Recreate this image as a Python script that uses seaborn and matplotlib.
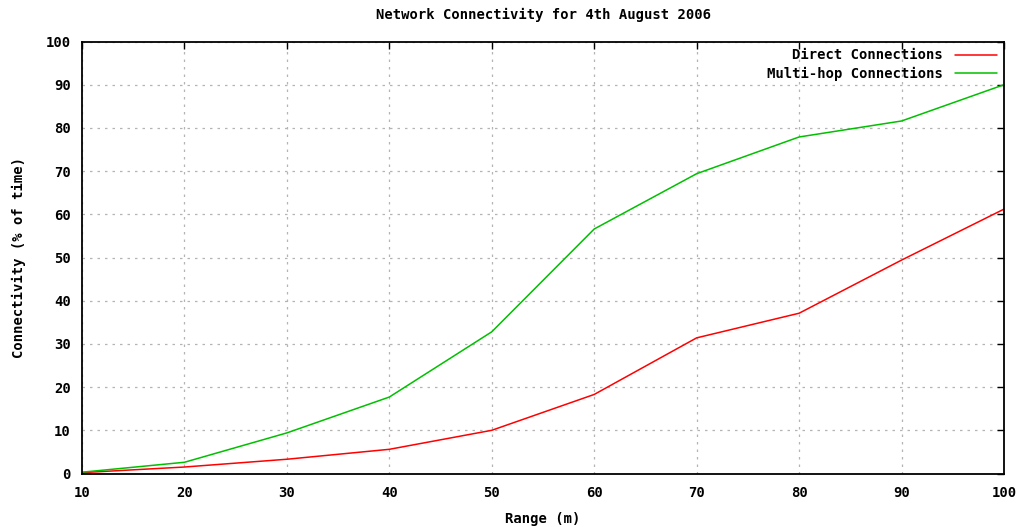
import matplotlib
matplotlib.use("Agg")
import matplotlib.pyplot as plt
import seaborn as sns
import pandas as pd

# Range (m) and connectivity (% of time)
ranges = [10, 20, 30, 40, 50, 60, 70, 80, 90, 100]
direct = [0.2, 1.5, 3.3, 5.6, 10.0, 18.3, 31.4, 37.1, 49.4, 61.2]
multihop = [0.3, 2.6, 9.4, 17.7, 32.8, 56.6, 69.4, 77.9, 81.6, 90.0]
series_names = ["Direct Connections", "Multi-hop Connections"]
x_ticks = [10, 20, 30, 40, 50, 60, 70, 80, 90, 100]
y_ticks = [0, 10, 20, 30, 40, 50, 60, 70, 80, 90, 100]

df = pd.DataFrame({
    "Range": ranges * 2,
    "Connectivity": direct + multihop,
    "Series": [series_names[0]] * len(ranges) + [series_names[1]] * len(ranges),
})

sns.set_theme(style="white")
plt.rcParams["font.family"] = ["DejaVu Sans Mono", "DejaVu Sans"]
plt.rcParams["font.weight"] = "bold"
plt.rcParams["text.color"] = "black"
plt.rcParams["axes.labelcolor"] = "black"

fig = plt.figure(figsize=(10.25, 5.27), dpi=100)
ax = fig.add_axes([82 / 1025, 1 - 473.5 / 527, (1004 - 82) / 1025, (473.5 - 41.5) / 527])

sns.lineplot(data=df, x="Range", y="Connectivity", hue="Series",
             palette={series_names[0]: "#ff0000", series_names[1]: "#00c000"},
             linewidth=1.1, ax=ax)

ax.set_xlim(10, 100)
ax.set_ylim(0, 100)
ax.set_xticks(x_ticks)
ax.set_yticks(y_ticks)
ax.grid(True, color="#b4b4b4", linestyle=(0, (2, 4)), linewidth=0.9)
ax.tick_params(direction="in", length=5, width=1, top=True, right=True,
               labelsize=10, colors="black")
ax.tick_params(axis="x", pad=9)
ax.tick_params(axis="y", pad=8)
for lab in ax.get_xticklabels() + ax.get_yticklabels():
    lab.set_fontweight("bold")
for s in ax.spines.values():
    s.set_color("black")
    s.set_linewidth(1.3)

ax.set_xlabel("Range (m)", fontsize=10, fontweight="bold", labelpad=9, color="black")
ax.set_ylabel("Connectivity (% of time)", fontsize=10, fontweight="bold",
              labelpad=14, color="black")
ax.set_title("Network Connectivity for 4th August 2006", fontsize=10,
             fontweight="bold", pad=16, color="black")

leg = ax.legend(loc="upper right", frameon=False, markerfirst=False,
                fontsize=10, handlelength=3.0, handletextpad=0.9,
                labelspacing=0.3, borderaxespad=0.2, borderpad=0.3)
for t in leg.get_texts():
    t.set_fontweight("bold")
    t.set_color("black")
leg._legend_box.align = "right"

fig.savefig("out.png", dpi=100)
